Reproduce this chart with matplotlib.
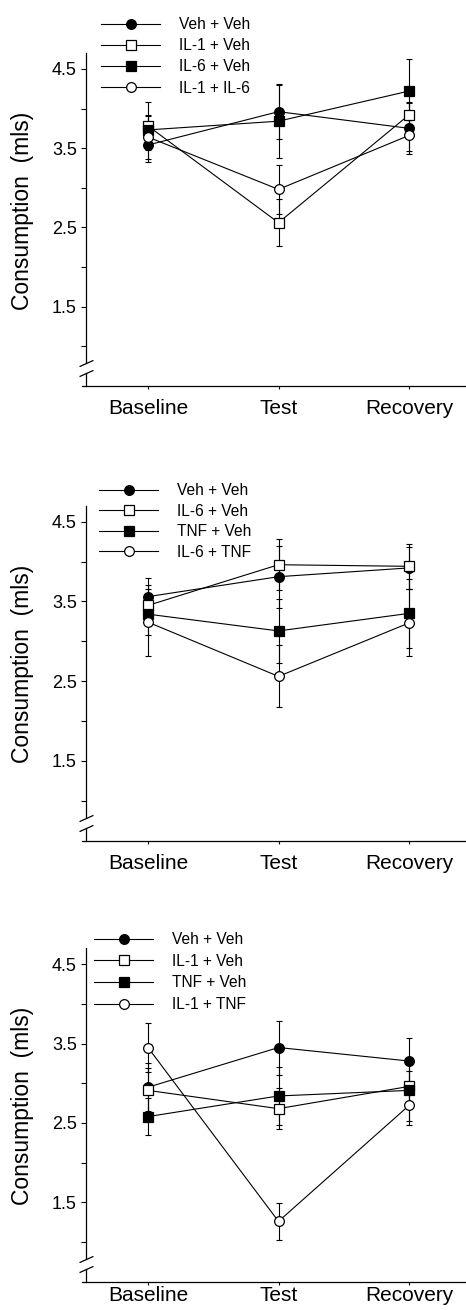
import matplotlib
matplotlib.use("Agg")
import matplotlib.pyplot as plt

plt.rcParams['font.family'] = ['Liberation Sans', 'DejaVu Sans']

categories = ["Baseline", "Test", "Recovery"]

# Panel A
a_labels = ["Veh + Veh", "IL-1 + Veh", "IL-6 + Veh", "IL-1 + IL-6"]
a_veh_veh = [3.54, 3.96, 3.75]
a_veh_veh_sem = [0.22, 0.35, 0.33]
a_il1_veh = [3.78, 2.56, 3.92]
a_il1_veh_sem = [0.30, 0.30, 0.15]
a_il6_veh = [3.73, 3.84, 4.22]
a_il6_veh_sem = [0.17, 0.46, 0.41]
a_il1_il6 = [3.64, 2.98, 3.66]
a_il1_il6_sem = [0.28, 0.31, 0.20]

# Panel B
b_labels = ["Veh + Veh", "IL-6 + Veh", "TNF + Veh", "IL-6 + TNF"]
b_veh_veh = [3.56, 3.81, 3.92]
b_veh_veh_sem = [0.23, 0.39, 0.26]
b_il6_veh = [3.45, 3.96, 3.94]
b_il6_veh_sem = [0.25, 0.32, 0.28]
b_tnf_veh = [3.34, 3.13, 3.35]
b_tnf_veh_sem = [0.26, 0.40, 0.43]
b_il6_tnf = [3.24, 2.56, 3.23]
b_il6_tnf_sem = [0.42, 0.39, 0.42]

# Panel C
c_labels = ["Veh + Veh", "IL-1 + Veh", "TNF + Veh", "IL-1 + TNF"]
c_veh_veh = [2.95, 3.45, 3.28]
c_veh_veh_sem = [0.30, 0.34, 0.29]
c_il1_veh = [2.91, 2.68, 2.96]
c_il1_veh_sem = [0.28, 0.26, 0.20]
c_tnf_veh = [2.58, 2.84, 2.91]
c_tnf_veh_sem = [0.23, 0.36, 0.38]
c_il1_tnf = [3.45, 1.26, 2.72]
c_il1_tnf_sem = [0.31, 0.23, 0.25]

major_ticks = [1.5, 2.5, 3.5, 4.5]
minor_ticks = [1.0, 2.0, 3.0, 4.0]

panels = [
    (a_labels, [(a_veh_veh, a_veh_veh_sem), (a_il1_veh, a_il1_veh_sem),
                (a_il6_veh, a_il6_veh_sem), (a_il1_il6, a_il1_il6_sem)]),
    (b_labels, [(b_veh_veh, b_veh_veh_sem), (b_il6_veh, b_il6_veh_sem),
                (b_tnf_veh, b_tnf_veh_sem), (b_il6_tnf, b_il6_tnf_sem)]),
    (c_labels, [(c_veh_veh, c_veh_veh_sem), (c_il1_veh, c_il1_veh_sem),
                (c_tnf_veh, c_tnf_veh_sem), (c_il1_tnf, c_il1_tnf_sem)]),
]

styles = [
    dict(marker='o', mfc='black', ms=7),
    dict(marker='s', mfc='white', ms=6.5),
    dict(marker='s', mfc='black', ms=6.5),
    dict(marker='o', mfc='white', ms=7),
]

W, H = 466, 1310
fig = plt.figure(figsize=(W / 100, H / 100), dpi=100)

# (axes top px, axes bottom px, legend left px, legend top px, labelspacing, xtick pad)
layout = [
    (53, 386, 101, 17, 0.40, 7),
    (505.7, 840.7, 99, 483, 0.36, 7),
    (948.3, 1281.7, 94, 932, 0.43, 0.5),
]

ax_left_px = 82
ax_w_px = W - ax_left_px
x_scale = 130.5
x0 = -(148 - ax_left_px) / x_scale
x1 = x0 + ax_w_px / x_scale
spine_x = -(148 - 86) / x_scale

for (labels, series), (top, bot, lgx, lgy, lsp, xpad) in zip(panels, layout):
    ax = fig.add_axes([ax_left_px / W, 1 - bot / H, ax_w_px / W, (bot - top) / H])
    xs = list(range(len(categories)))
    handles = []
    for (vals, sem), st, lab in zip(series, styles, labels):
        ax.errorbar(xs, vals, yerr=sem, fmt='none', ecolor='black',
                    elinewidth=0.8, capsize=2.2, capthick=0.8, zorder=2)
        ln, = ax.plot(xs, vals, color='black', lw=0.8, marker=st['marker'],
                      mfc=st['mfc'], mec='black', mew=0.9, ms=st['ms'],
                      label=lab, zorder=3)
        handles.append(ln)
    ax.set_xlim(x0, x1)
    ax.set_ylim(0.5, 4.7)
    for s in ['top', 'right']:
        ax.spines[s].set_visible(False)
    ax.spines['left'].set_position(('data', spine_x))
    ax.spines['left'].set_bounds(0.79, 4.7)
    ax.spines['left'].set_linewidth(0.9)
    ax.spines['bottom'].set_linewidth(0.9)
    # lower piece of broken axis
    ax.plot([spine_x, spine_x], [0.5, 0.665], color='black', lw=0.9,
            clip_on=False, zorder=4)
    d = 0.45
    ax.plot([spine_x, spine_x], [0.79, 0.665], linestyle='none',
            marker=[(-1, -d), (1, d)], ms=10, mec='black', mew=0.9,
            color='black', clip_on=False, zorder=4)
    ax.set_xticks(xs)
    ax.set_xticklabels(categories, fontsize=15)
    ax.set_yticks(major_ticks)
    ax.set_yticklabels(["1.5", "2.5", "3.5", "4.5"], fontsize=13)
    ax.set_yticks(minor_ticks, minor=True)
    ax.tick_params(axis='y', which='both', direction='out', length=3.5,
                   width=0.8, pad=3)
    ax.tick_params(axis='x', direction='out', length=2.5, width=0.8, pad=xpad)
    ax.set_ylabel("Consumption  (mls)", fontsize=16.5)
    ax.yaxis.set_label_coords((34 - ax_left_px) / ax_w_px, 0.527)
    ax.legend(handles=handles, loc='upper left',
              bbox_to_anchor=(lgx / W, 1 - lgy / H),
              bbox_transform=fig.transFigure, frameon=False, fontsize=11.2,
              handlelength=3.8, handletextpad=1.2, labelspacing=lsp,
              borderpad=0, borderaxespad=0, numpoints=1)

fig.savefig("out.png", dpi=100)
